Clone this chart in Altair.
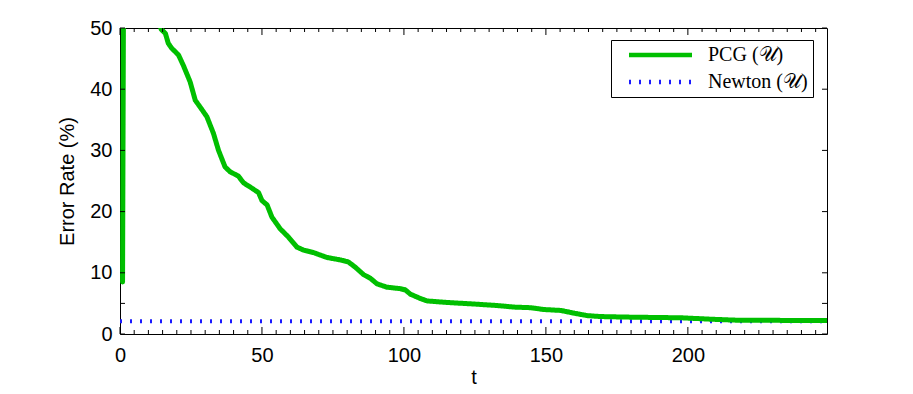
import altair as alt
import pandas as pd

# ---- data ----
pcg_t = [0.9, 1.5, 3, 6, 10, 13, 14.5, 16, 17, 18.2, 20.6, 22.3, 24.7, 26.5, 28.2,
         30.6, 32.9, 34.7, 37, 38.8, 41.7, 43.5, 45.9, 48.8, 50, 51.8, 53.5,
         56.4, 59.4, 62.3, 64.7, 68.2, 72.9, 77.6, 80.5, 82.9, 85.8, 88.2, 90.5,
         94, 98.8, 100.5, 102.3, 105.8, 108.2, 115.2, 124.6, 132.9, 138.7, 144.6,
         149.3, 155.2, 159.9, 164.6, 169.3, 180, 197.5, 209, 217.6, 249]
pcg_v = [8.5, 92, 80, 68, 57, 52, 49.8, 49.1, 47.5, 46.7, 45.6, 43.9, 41.2, 38.2,
         37.1, 35.5, 32.8, 30.0, 27.3, 26.5, 25.8, 24.7, 24.0, 23.1, 21.8, 21.1,
         19.1, 17.2, 15.8, 14.2, 13.7, 13.3, 12.5, 12.1, 11.75, 10.9, 9.7, 9.1,
         8.2, 7.65, 7.4, 7.2, 6.5, 5.8, 5.4, 5.15, 4.9, 4.65, 4.4, 4.3, 4.0, 3.85,
         3.4, 3.0, 2.85, 2.75, 2.65, 2.4, 2.25, 2.2]
newton_t = [0, 249]
newton_v = [2.1, 2.1]

series_names = ["PCG (\U0001D4B0)", "Newton (\U0001D4B0)"]
series_colors = ["#00bf00", "#1a1aff"]

x_label_values = [0, 50, 100, 150, 200]
x_minor_values = [v for v in range(0, 250, 5) if v % 50 != 0]
y_label_values = [0, 10, 20, 30, 40, 50]
y_tick_values = [0, 5, 10, 20, 30, 40, 50]

W, H = 707, 306

pcg_df = pd.DataFrame({"t": pcg_t, "v": pcg_v, "series": series_names[0]})
newton_df = pd.DataFrame({"t": newton_t, "v": newton_v, "series": series_names[1]})

xscale = alt.Scale(domain=[0, 249], nice=False, zero=False)
yscale = alt.Scale(domain=[0, 50], nice=False)

legend = alt.Legend(
    title=None, orient="none", legendX=491, legendY=12,
    symbolType="M1,0H22", symbolSize=36, symbolStrokeWidth=4.5,
    labelOffset=72, padding=5, rowPadding=7,
    strokeColor="black", fillColor="white", cornerRadius=0,
    labelFont="Liberation Serif", labelFontSize=20, labelColor="black",
)
color_enc = alt.Color("series:N",
                      scale=alt.Scale(domain=series_names, range=series_colors),
                      legend=legend)
dash_enc = alt.StrokeDash("series:N",
                          scale=alt.Scale(domain=series_names, range=[[1, 0], [2, 8]]),
                          legend=legend)

x_axis = alt.Axis(values=x_label_values, labelPadding=11, titlePadding=2,
                  labelFlush=False, labelOverlap=False, format="d")
y_axis = alt.Axis(values=y_label_values, labelPadding=8, titlePadding=12,
                  labelFlush=False, labelOverlap=False, format="d")

def xe(f="t"):
    return alt.X(f"{f}:Q", scale=xscale, title="t", axis=x_axis)

def ye(f="v"):
    return alt.Y(f"{f}:Q", scale=yscale, title="Error Rate (%)", axis=y_axis)

newton = alt.Chart(newton_df).mark_line(strokeWidth=4, strokeCap="butt").encode(
    x=xe(), y=ye(), color=color_enc, strokeDash=dash_enc)
pcg = alt.Chart(pcg_df).mark_line(clip=True, strokeWidth=5, strokeCap="round",
                                  strokeJoin="round").encode(
    x=xe(), y=ye(), color=color_enc, strokeDash=dash_enc)

xmaj = pd.DataFrame({"t": x_label_values})
xmin = pd.DataFrame({"t": x_minor_values})
yt = pd.DataFrame({"v": y_tick_values})

def xt(df, y0, y1):
    return alt.Chart(df).mark_rule(color="black", strokeWidth=1).encode(
        x=xe(), y=alt.value(y0), y2=alt.value(y1))

def ytk(x0, x1):
    return alt.Chart(yt).mark_rule(color="black", strokeWidth=1).encode(
        y=ye(), x=alt.value(x0), x2=alt.value(x1))

ticks = [
    xt(xmaj, H, H - 7), xt(xmin, H, H - 4),
    xt(xmaj, 0, 7), xt(xmin, 0, 4),
    ytk(0, 5), ytk(W, W - 5),
]

chart = alt.layer(newton, pcg, *ticks).properties(
    width=W, height=H,
    autosize=alt.AutoSizeParams(type="none"),
    padding={"left": 112, "top": 20, "right": 78, "bottom": 52},
).configure_view(stroke="black", strokeWidth=1).configure_axis(
    labelFont="Liberation Sans", labelFontSize=20, labelColor="black",
    titleFont="Liberation Sans", titleFontSize=20, titleFontWeight="normal",
    titleColor="black", grid=False, domain=False, ticks=False,
)

chart.save("out.html", embed_options={"renderer": "svg", "actions": False})
